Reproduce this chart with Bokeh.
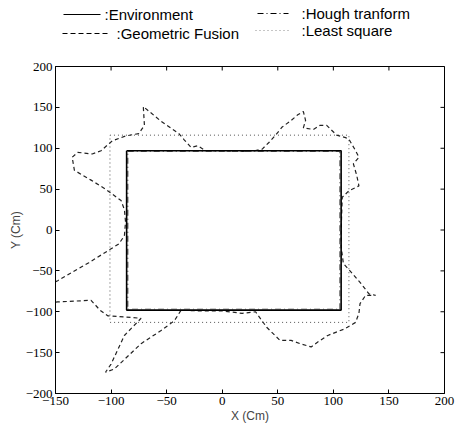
import math
from bokeh.plotting import figure
from bokeh.layouts import column
from bokeh.models import Range1d, FixedTicker
from bokeh.core.properties import value
from bokeh.embed import file_html
from bokeh.resources import INLINE

# ---------------- data ----------------
env_x = [-86, 107, 107, -86, -86]
env_y = [97, 97, -98, -98, 97]

hough_x = [-85, 106, 106, -85, -85]
hough_y = [96, 96, -97, -97, 96]

ls_x = [-101, 114, 114, -101, -101]
ls_y = [116, 116, -113, -113, 116]

gf_x = [-156, -148, -120, -93, -88, -87, -88, -91, -105, -118, -133, -135, -130, -117,
        -109, -99, -87, -75, -70, -71, -55, -39, -34, -28, -22, -15, 0, 15, 30, 36, 42,
        48, 54, 62, 68, 73, 75, 73, 82, 88, 94, 103, 111, 114, 120, 123, 118, 121, 123,
        114, 108, 107, 107, 109, 115, 124, 132, 138, 129, 124, 123, 120, 110, 95, 86,
        80, 70, 62, 52, 40, 30, 18, 0, -20, -37, -43, -55, -73, -97, -105, -100, -88,
        -73, -82, -103, -110, -118, -148, -156]
gf_y = [-67, -62, -40, -17, -7, 10, 25, 36, 50, 61, 73, 89, 95, 93,
        97, 109, 115, 118, 128, 151, 133, 118, 110, 101, 103, 97, 97, 96, 97, 99, 107,
        116, 126, 134, 141, 145, 134, 125, 123, 128, 128, 116, 113, 111, 97, 89, 81, 67, 54,
        48, 40, 0, -20, -41, -50, -64, -78, -80, -80, -90, -102, -113, -121, -129, -137,
        -143, -139, -135, -135, -119, -100, -102, -99, -99, -98, -111, -123, -139, -170, -174, -164, -129,
        -108, -107, -105, -98, -86, -88, -89]

x_ticks = [-150, -100, -50, 0, 50, 100, 150, 200]
y_ticks = [-200, -150, -100, -50, 0, 50, 100, 150, 200]

legend_labels = [":Environment", ":Geometric Fusion", ":Hough tranform", ":Least square"]

X0, X1, Y0, Y1 = -150, 200, -200, 200

# ---------------- legend strip (its frame is aligned with the main frame) ----------------
lf = figure(width=455, height=58, x_range=Range1d(55, 444), y_range=Range1d(58, 0),
            output_backend="svg", toolbar_location=None, min_border=0,
            min_border_left=55, min_border_right=11)
lf.axis.visible = False
lf.grid.visible = False
lf.outline_line_color = None

# (line x0, x1, y, text x, dash) in page pixels
leg_spec = [
    (63, 100, 14, 104, "solid"),
    (62, 107, 33, 116, "5 3"),
    (257, 288, 13, 301, "6 3 1 3"),
    (255, 290, 30, 301, "1 3"),
]
for (x0, x1, yy, tx, dash), lab in zip(leg_spec, legend_labels):
    lf.line([x0, x1], [yy, yy], line_color="black", line_width=1.2, line_dash=dash,
            line_alpha=0.45 if dash == "1 3" else 1.0)
    lf.text([tx], [yy], text=[lab], text_font=value("Liberation Sans"),
            text_font_size="15px", text_baseline="middle", text_align="left",
            text_color="black")

# ---------------- main plot ----------------
p = figure(width=455, height=372, x_range=Range1d(X0, X1), y_range=Range1d(Y0, Y1),
           output_backend="svg", toolbar_location=None,
           min_border_left=55, min_border_right=11, min_border_top=8, min_border_bottom=37)
p.grid.visible = False
p.outline_line_color = "black"
p.outline_line_width = 1

p.line(ls_x, ls_y, line_color="#555555", line_width=1, line_dash="1 3")
p.line(gf_x, gf_y, line_color="#222222", line_width=1.2, line_dash="4 3")
p.line(env_x, env_y, line_color="black", line_width=1.6)
p.line(hough_x, hough_y, line_color="#333333", line_width=1.2, line_dash="6 3 1 3")

# inward ticks on the top and right edges (box style)
p.scatter(x_ticks, [Y1] * len(x_ticks), marker="dash", angle=math.pi / 2, size=8,
          line_color="black", line_width=1)
p.scatter([X1] * len(y_ticks), y_ticks, marker="dash", size=8,
          line_color="black", line_width=1)

for ax, ticks in ((p.xaxis[0], x_ticks), (p.yaxis[0], y_ticks)):
    ax.ticker = FixedTicker(ticks=ticks)
    ax.major_tick_in = 4
    ax.major_tick_out = 0
    ax.minor_tick_line_color = None
    ax.major_label_standoff = 3
    ax.major_label_text_font = "Liberation Sans Narrow"
    ax.major_label_text_font_size = "13px"
    ax.major_label_text_color = "black"
    ax.axis_label_text_font = "Liberation Sans"
    ax.axis_label_text_font_size = "12px"
    ax.axis_label_text_font_style = "normal"
    ax.axis_line_color = "black"

p.xaxis.axis_label = "X (Cm)"
p.yaxis.axis_label = "Y (Cm)"
p.xaxis.axis_label_standoff = 1
p.yaxis.axis_label_standoff = 0

layout = column(lf, p, spacing=0)
open("out.html", "w").write(file_html(layout, INLINE))
